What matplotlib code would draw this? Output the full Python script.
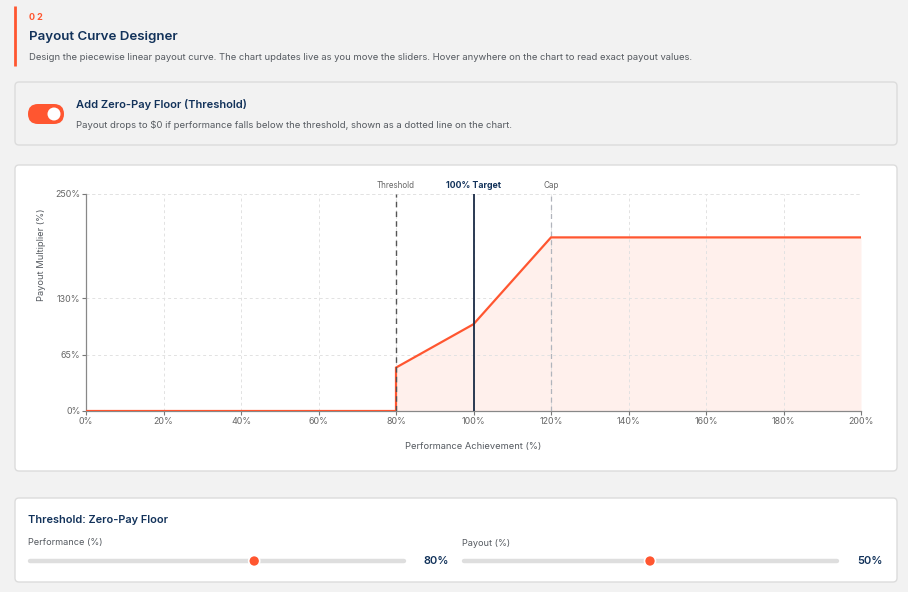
import numpy as np
import matplotlib.pyplot as plt
from matplotlib.patches import FancyBboxPatch, Circle
from matplotlib.transforms import blended_transform_factory

plt.rcParams['font.family'] = ['Inter', 'DejaVu Sans']

# payout curve breakpoints (performance %, payout %)
perf = [0, 80, 80, 100, 120, 200]
payout = [0, 0, 50, 100, 200, 200]

x_ticks = [0, 20, 40, 60, 80, 100, 120, 140, 160, 180, 200]
y_ticks = [0, 65, 130, 250]

threshold_perf = 80
threshold_pay = 50
target_perf = 100
cap_perf = 120

ORANGE = '#ff5630'
NAVY = '#12325a'
GRAY_TXT = '#555a60'
BG = '#f2f2f2'

W, H = 908, 592
fig = plt.figure(figsize=(W / 100, H / 100), dpi=100, facecolor=BG)

# background layer in pixel coords
bg = fig.add_axes([0, 0, 1, 1], zorder=0)
bg.set_xlim(0, W)
bg.set_ylim(H, 0)
bg.axis('off')

# header
bg.plot([14.5, 14.5], [6, 66], color=ORANGE, lw=2, solid_capstyle='butt')
bg.text(29, 18, '0 2', color=ORANGE, fontsize=6.5, fontweight='bold', va='center')
bg.text(29, 37, 'Payout Curve Designer', color=NAVY, fontsize=9.6, fontweight='semibold', va='center')
bg.text(29, 57, 'Design the piecewise linear payout curve. The chart updates live as you move the sliders. '
        'Hover anywhere on the chart to read exact payout values.',
        color=GRAY_TXT, fontsize=6.8, va='center')

# toggle card
bg.add_patch(FancyBboxPatch((15, 82), 882, 63, boxstyle='round,pad=0,rounding_size=4',
                            fc=BG, ec='#dcdcdc', lw=1))
bg.add_patch(FancyBboxPatch((28, 104), 36, 20, boxstyle='round,pad=0,rounding_size=10',
                            fc=ORANGE, ec='none'))
bg.add_patch(Circle((54, 114), 6.5, fc='white', ec='none'))
bg.text(76, 105, 'Add Zero-Pay Floor (Threshold)', color=NAVY, fontsize=8, fontweight='semibold', va='center')
bg.text(76, 125, 'Payout drops to $0 if performance falls below the threshold, shown as a dotted line on the chart.',
        color=GRAY_TXT, fontsize=6.85, va='center')

# chart card
bg.add_patch(FancyBboxPatch((15, 165), 882, 306, boxstyle='round,pad=0,rounding_size=4',
                            fc='white', ec='#dcdcdc', lw=1))

# slider card
bg.add_patch(FancyBboxPatch((15, 498), 882, 84, boxstyle='round,pad=0,rounding_size=4',
                            fc='white', ec='#dcdcdc', lw=1))
bg.text(28, 520, 'Threshold: Zero-Pay Floor', color=NAVY, fontsize=7.9, fontweight='semibold', va='center')

sliders = [
    ('Performance (%)', 28, 405, 449, threshold_perf, 50, 100),
    ('Payout (%)', 462, 838, 883, threshold_pay, 0, 100),
]
for label, x0, x1, xv, val, vmin, vmax in sliders:
    bg.text(x0, 543, label, color=GRAY_TXT, fontsize=6.6, va='center')
    bg.plot([x0 + 1.5, x1 - 1.5], [561, 561], color='#dedede', lw=3.2, solid_capstyle='round')
    tx = x0 + (x1 - x0) * (val - vmin) / (vmax - vmin)
    bg.add_patch(Circle((tx, 561), 5.5, fc=ORANGE, ec='white', lw=1.2, zorder=3))
    bg.text(xv, 561, f'{val}%', color=NAVY, fontsize=8, fontweight='semibold', va='center', ha='right')

# chart axes
ax = fig.add_axes([86 / W, (H - 411) / H, 775 / W, 217 / H], zorder=1)
ax.set_facecolor('none')
ax.set_xlim(0, 200)
ax.set_ylim(0, 250)

ax.fill_between(perf, payout, 0, color='#fff0ec', lw=0, zorder=1)
ax.plot(perf, payout, color=ORANGE, lw=1.6, zorder=4, solid_joinstyle='miter')

ax.axvline(threshold_perf, color='#555555', lw=1, ls=(0, (4, 3)), zorder=5)
ax.axvline(target_perf, color='#1a2b45', lw=1.3, zorder=5)
ax.axvline(cap_perf, color='#b0b4bc', lw=0.9, ls=(0, (4, 3)), zorder=3)

trans = blended_transform_factory(ax.transData, ax.transAxes)
ax.text(threshold_perf, 1.018, 'Threshold', transform=trans, ha='center', va='bottom',
        fontsize=5.8, color='#666666')
ax.text(target_perf, 1.018, '100% Target', transform=trans, ha='center', va='bottom',
        fontsize=6.3, color=NAVY, fontweight='bold')
ax.text(cap_perf, 1.018, 'Cap', transform=trans, ha='center', va='bottom',
        fontsize=5.8, color='#666666')

ax.set_xticks(x_ticks)
ax.set_xticklabels([f'{v}%' for v in x_ticks])
ax.set_yticks(y_ticks)
ax.set_yticklabels([f'{v}%' for v in y_ticks])
ax.tick_params(axis='both', labelsize=6.4, colors='#777777', labelcolor='#666666', length=3, width=0.8, pad=1)
ax.grid(True, color='#e2e2e2', ls=(0, (3, 3)), lw=0.7, zorder=0)
ax.axvline(200, color='#e2e2e2', ls=(0, (3, 3)), lw=0.7, zorder=0)
ax.axhline(250, color='#e2e2e2', ls=(0, (3, 3)), lw=0.7, zorder=0)

for s in ['top', 'right']:
    ax.spines[s].set_visible(False)
for s in ['left', 'bottom']:
    ax.spines[s].set_color('#888888')
    ax.spines[s].set_linewidth(0.9)

fig.text(473 / W, 1 - 446 / H, 'Performance Achievement (%)', ha='center', va='center',
         fontsize=6.7, color=GRAY_TXT)
fig.text(42 / W, 1 - 255 / H, 'Payout Multiplier (%)', ha='center', va='center',
         rotation=90, fontsize=6.7, color=GRAY_TXT)

fig.savefig('out.png', dpi=100, facecolor=BG)
